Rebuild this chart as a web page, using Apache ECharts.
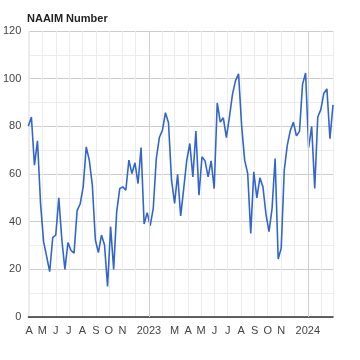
<!DOCTYPE html>
<html><head><meta charset="utf-8">
<script src="https://cdn.jsdelivr.net/npm/echarts@6/dist/echarts.min.js"></script>
<style>html,body{margin:0;padding:0;background:#fff}#c{width:360px;height:360px}</style>
</head><body><div id="c"></div>
<script>
const title = 'NAAIM Number';
const dates = [
 '2022-03-30','2022-04-06','2022-04-13','2022-04-20','2022-04-27','2022-05-04','2022-05-11','2022-05-18','2022-05-25',
 '2022-06-01','2022-06-08','2022-06-15','2022-06-22','2022-06-29','2022-07-06','2022-07-13','2022-07-20','2022-07-27',
 '2022-08-03','2022-08-10','2022-08-17','2022-08-24','2022-08-31','2022-09-07','2022-09-14','2022-09-21','2022-09-28',
 '2022-10-05','2022-10-12','2022-10-19','2022-10-26','2022-11-02','2022-11-09','2022-11-16','2022-11-23','2022-11-30',
 '2022-12-07','2022-12-14','2022-12-21','2022-12-28',
 '2023-01-04','2023-01-11','2023-01-18','2023-01-25','2023-02-01','2023-02-08','2023-02-15','2023-02-22',
 '2023-03-01','2023-03-08','2023-03-15','2023-03-22','2023-03-29','2023-04-05','2023-04-12','2023-04-19','2023-04-26',
 '2023-05-03','2023-05-10','2023-05-17','2023-05-24','2023-05-31','2023-06-07','2023-06-14','2023-06-21','2023-06-28',
 '2023-07-05','2023-07-12','2023-07-19','2023-07-26','2023-08-02','2023-08-09','2023-08-16','2023-08-23','2023-08-30',
 '2023-09-06','2023-09-13','2023-09-20','2023-09-27','2023-10-04','2023-10-11','2023-10-18','2023-10-25',
 '2023-11-01','2023-11-08','2023-11-15','2023-11-22','2023-11-29','2023-12-06','2023-12-13','2023-12-20','2023-12-27',
 '2024-01-03','2024-01-10','2024-01-17','2024-01-24','2024-01-31','2024-02-07','2024-02-14','2024-02-21','2024-02-28'
];
const naaim = [
 80, 83.9, 63.7, 73.9, 47.7, 31.6, 25.4, 19, 33.3, 34.4, 50, 32.3, 20, 31.2, 27.9, 26.8, 44.6, 47.4, 54.6, 71.4,
 65.8, 55.3, 32.3, 27, 34.4, 30.2, 12.8, 37.9, 20, 44.2, 53.9, 54.6, 53.2, 65.8, 60.2, 64.7, 56, 71.1,
 39, 43.8, 38.3, 45.6, 66.5, 75.3, 78.3, 85.7, 81.5, 57.4, 47.7, 59.9, 42.4, 53.9, 65.8, 72.8, 58.8, 78, 51.1,
 67.2, 65.5, 58.8, 65.5, 53.9, 89.8, 81.8, 83.6, 75.3, 83.9, 93.4, 99.2, 102, 80.4, 65.8, 60.2, 35.1,
 60.9, 50, 58.4, 54.6, 43.1, 35.8, 45.6, 66.5, 24.3, 28.9, 61.6, 72.1, 78.3, 81.7, 76, 77.9, 97.6, 102.4,
 71.1, 80, 53.9, 83.9, 87, 93.9, 95.7, 74.8, 89
];
const yearStarts = ['2023-01-01', '2024-01-01'];
const monthLetters = ['J','F','M','A','M','J','J','A','S','O','N','D'];
const hiddenMonths = [1, 11];

const FONT = "'Liberation Sans Narrow','Arial Narrow','Liberation Sans',sans-serif";
const chart = echarts.init(document.getElementById('c'), null, {renderer: 'canvas'});
chart.setOption({
  animation: false,
  title: {text: title, left: 22, top: 8, textStyle: {fontFamily: FONT, fontSize: 11, fontWeight: 'bold', color: '#222'}},
  grid: {left: 27, right: 27, top: 31, bottom: 43, containLabel: false},
  xAxis: {
    type: 'time', min: dates[0], max: dates[dates.length - 1],
    minInterval: 30 * 86400000, maxInterval: 31 * 86400000,
    axisLine: {show: true, lineStyle: {color: '#333', width: 1.5}},
    axisTick: {show: false},
    splitLine: {show: true, lineStyle: {color: '#ececec', width: 1}},
    axisLabel: {
      fontFamily: FONT, fontSize: 11, color: '#444', margin: 8, hideOverlap: false,
      formatter: function (v) {
        const d = new Date(v);
        if (d.getDate() !== 1) return '';
        const m = d.getMonth();
        if (m === 0) return String(d.getFullYear());
        if (hiddenMonths.indexOf(m) >= 0) return '';
        return monthLetters[m];
      }
    }
  },
  yAxis: {
    type: 'value', min: 0, max: 120, interval: 20,
    axisLine: {show: false}, axisTick: {show: false},
    axisLabel: {fontFamily: FONT, fontSize: 11, color: '#444', margin: 7},
    splitLine: {show: true, lineStyle: {color: '#cccccc', width: 1}},
    minorTick: {show: false, splitNumber: 2},
    minorSplitLine: {show: true, lineStyle: {color: '#ececec', width: 1}}
  },
  series: [
    {
      type: 'line', data: [], z: 1, silent: true,
      markLine: {
        silent: true, symbol: 'none', label: {show: false},
        lineStyle: {color: '#cfcfcf', width: 1, type: 'solid'},
        data: yearStarts.map(d => ({xAxis: d}))
      }
    },
    {
      type: 'line', z: 3, showSymbol: false,
      data: dates.map((d, i) => [d, naaim[i]]),
      lineStyle: {color: '#3366cc', width: 1.6},
      itemStyle: {color: '#3366cc'}
    }
  ]
});
</script></body></html>
